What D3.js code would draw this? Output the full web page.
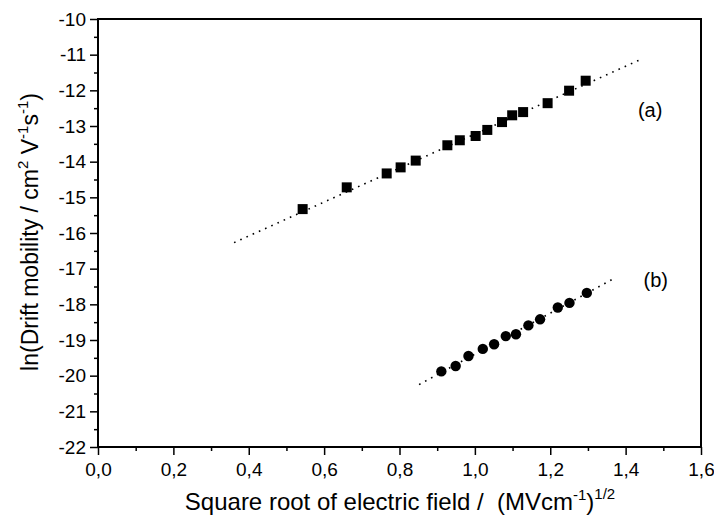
<!DOCTYPE html>
<html lang="en">
<head>
<meta charset="utf-8">
<title>Drift mobility</title>
<script src="https://d3js.org/d3.v7.min.js"></script>
<style>
  body { margin: 0; background: #fff; }
  text { font-family: "Liberation Sans", Arial, sans-serif; fill: #000; white-space: pre; }
</style>
</head>
<body>
<script>

// data
const xA = [0.543, 0.660, 0.766, 0.803, 0.843, 0.927, 0.960, 1.002, 1.033, 1.072, 1.099, 1.128, 1.193, 1.250, 1.294];
const yA = [-15.33, -14.72, -14.33, -14.16, -13.97, -13.54, -13.40, -13.28, -13.11, -12.89, -12.70, -12.61, -12.36, -12.01, -11.73];
const xB = [0.911, 0.949, 0.983, 1.021, 1.051, 1.082, 1.109, 1.142, 1.173, 1.220, 1.251, 1.297];
const yB = [-19.88, -19.73, -19.45, -19.25, -19.12, -18.89, -18.84, -18.59, -18.42, -18.09, -17.96, -17.68];
const fitA = [[0.361, -16.27], [1.443, -11.12]];
const fitB = [[0.852, -20.25], [1.370, -17.27]];
const xTicks = [0, 0.2, 0.4, 0.6, 0.8, 1.0, 1.2, 1.4, 1.6];
const yTicks = [-22, -21, -20, -19, -18, -17, -16, -15, -14, -13, -12, -11, -10];

const w = 714, h = 516;
const margin = {top: 19, right: 13, bottom: 69, left: 98};
const innerW = w - margin.left - margin.right;
const innerH = h - margin.top - margin.bottom;

const svg = d3.select("body").append("svg")
    .attr("width", w)
    .attr("height", h);

const x = d3.scaleLinear().domain([0, 1.6]).range([0, innerW]);
const y = d3.scaleLinear().domain([-22, -10]).range([innerH, 0]);

const g = svg.append("g")
    .attr("transform", `translate(${margin.left},${margin.top})`);

const fmtX = d => d3.format(".1f")(d).replace(".", ",");

// minor ticks
g.append("g")
    .attr("transform", `translate(0,${innerH})`)
    .call(d3.axisBottom(x).tickValues(d3.range(0.1, 1.6, 0.2)).tickSize(4).tickFormat(""))
    .call(a => a.select(".domain").remove());
g.append("g")
    .call(d3.axisLeft(y).tickValues(d3.range(-21.5, -10, 1)).tickSize(4).tickFormat(""))
    .call(a => a.select(".domain").remove());

// major ticks
const xAx = g.append("g")
    .attr("transform", `translate(0,${innerH})`)
    .call(d3.axisBottom(x).tickValues(xTicks).tickSize(8).tickPadding(8).tickFormat(fmtX));
const yAx = g.append("g")
    .call(d3.axisLeft(y).tickValues(yTicks).tickSize(8).tickPadding(4).tickFormat(d => String(d)));

[xAx, yAx].forEach(a => {
  a.selectAll("text").style("font-size", "19px");
  a.select(".domain").remove();
});
g.selectAll(".tick line").attr("stroke-width", 1.5);

// frame
g.append("rect")
    .attr("width", innerW)
    .attr("height", innerH)
    .attr("fill", "none")
    .attr("stroke", "#000")
    .attr("stroke-width", 2);

// fit lines
const line = d3.line().x(d => x(d[0])).y(d => y(d[1]));
[fitA, fitB].forEach(f => {
  g.append("path")
      .attr("d", line(f))
      .attr("fill", "none")
      .attr("stroke", "#000")
      .attr("stroke-width", 1.6)
      .attr("stroke-dasharray", "1.6,5.2");
});

// series (a) squares
g.selectAll("rect.sq")
  .data(xA.map((v, i) => [v, yA[i]]))
  .enter().append("rect")
    .attr("class", "sq")
    .attr("x", d => x(d[0]) - 5)
    .attr("y", d => y(d[1]) - 5)
    .attr("width", 10)
    .attr("height", 10)
    .attr("fill", "#000");

// series (b) circles
g.selectAll("circle")
  .data(xB.map((v, i) => [v, yB[i]]))
  .enter().append("circle")
    .attr("cx", d => x(d[0]))
    .attr("cy", d => y(d[1]))
    .attr("r", 5.2)
    .attr("fill", "#000");

// labels (a), (b)
g.append("text")
    .attr("x", x(1.465))
    .attr("y", y(-12.75))
    .attr("text-anchor", "middle")
    .style("font-size", "20px")
    .text("(a)");
g.append("text")
    .attr("x", x(1.48))
    .attr("y", y(-17.5))
    .attr("text-anchor", "middle")
    .style("font-size", "20px")
    .text("(b)");

// axis titles
const xt = svg.append("text")
    .attr("x", 400)
    .attr("y", 510)
    .attr("text-anchor", "middle")
    .style("font-size", "24px");
xt.append("tspan").text("Square root of electric field /  (MVcm");
xt.append("tspan").attr("dy", -10).style("font-size", "15px").text("-1");
xt.append("tspan").attr("dy", 10).text(")");
xt.append("tspan").attr("dy", -11).style("font-size", "15px").text("1/2");

const yt = svg.append("text")
    .attr("transform", "translate(38,232) rotate(-90)")
    .attr("text-anchor", "middle")
    .style("font-size", "23px");
yt.append("tspan").text("ln(Drift mobility / cm");
yt.append("tspan").attr("dy", -10).style("font-size", "15px").text("2");
yt.append("tspan").attr("dy", 10).text(" V");
yt.append("tspan").attr("dy", -10).style("font-size", "15px").text("-1");
yt.append("tspan").attr("dy", 10).text("s");
yt.append("tspan").attr("dy", -10).style("font-size", "15px").text("-1");
yt.append("tspan").attr("dy", 10).text(")");

</script>
</body>
</html>
